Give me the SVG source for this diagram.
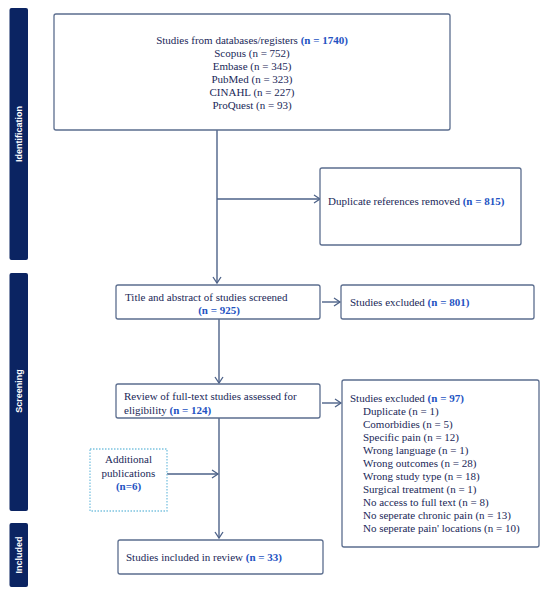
<svg xmlns="http://www.w3.org/2000/svg" width="550" height="594" viewBox="0 0 550 594">
<style>
.bar{fill:#0b2462}
.bt{font-family:"Liberation Sans",Arial,sans-serif;font-weight:bold;font-size:9px;fill:#ffffff}
.box{fill:#ffffff;stroke:#5b6d8e;stroke-width:1.3}
.dot{fill:#ffffff;stroke:#7cc3e0;stroke-width:1.3;stroke-dasharray:1.5 1.5}
.t{font-family:"Liberation Serif","Times New Roman",serif;font-size:11px;fill:#1a2858}
.b{font-weight:bold;fill:#2352c2}
.ln{fill:none;stroke:#4d6288;stroke-width:1.4}
</style>
<defs>
<marker id="ah" markerWidth="10" markerHeight="10" refX="7" refY="5" orient="auto" markerUnits="userSpaceOnUse">
<path d="M1,1 L7,5 L1,9" fill="none" stroke="#4d6288" stroke-width="1.3"/>
</marker>
</defs>
<rect width="550" height="594" fill="#ffffff"/>
<g id="bar-identification">
<rect class="bar" x="9.5" y="8" width="18.5" height="252" rx="2"/>
<text class="bt" transform="translate(22,134) rotate(-90)" text-anchor="middle">Identification</text>
</g>
<g id="bar-screening">
<rect class="bar" x="9.5" y="273" width="18.5" height="238" rx="2"/>
<text class="bt" transform="translate(22,391) rotate(-90)" text-anchor="middle">Screening</text>
</g>
<g id="bar-included">
<rect class="bar" x="9.5" y="523" width="18.5" height="64" rx="2"/>
<text class="bt" transform="translate(22,555) rotate(-90)" text-anchor="middle">Included</text>
</g>
<g id="connectors">
<path class="ln" d="M217,130 V283" marker-end="url(#ah)"/>
<path class="ln" d="M217,199 H320" marker-end="url(#ah)"/>
<path class="ln" d="M322,302 H340" marker-end="url(#ah)"/>
<path class="ln" d="M219,319 V383" marker-end="url(#ah)"/>
<path class="ln" d="M322,403 H341" marker-end="url(#ah)"/>
<path class="ln" d="M219,418 V538" marker-end="url(#ah)"/>
<path class="ln" d="M167,474 H218" marker-end="url(#ah)"/>
</g>
<g id="node-databases">
<rect class="box" x="54" y="14" width="396" height="116" rx="2"/>
<text class="t" x="252" text-anchor="middle"><tspan x="252" y="44">Studies from databases/registers <tspan class="b">(n = 1740)</tspan></tspan><tspan x="252" y="57">Scopus (n = 752)</tspan><tspan x="252" y="70">Embase (n = 345)</tspan><tspan x="252" y="83">PubMed (n = 323)</tspan><tspan x="252" y="96">CINAHL (n = 227)</tspan><tspan x="252" y="109">ProQuest (n = 93)</tspan></text>
</g>
<g id="node-duplicates">
<rect class="box" x="320" y="168" width="201" height="77" rx="2"/>
<text class="t" x="328" y="205">Duplicate references removed <tspan class="b">(n = 815)</tspan></text>
</g>
<g id="node-title">
<rect class="box" x="116" y="285" width="204" height="34" rx="2"/>
<text class="t" x="125" y="301">Title and abstract of studies screened</text>
<text class="t b" x="219" y="314" text-anchor="middle">(n = 925)</text>
</g>
<g id="node-excluded1">
<rect class="box" x="341" y="285" width="193" height="34" rx="2"/>
<text class="t" x="350" y="306">Studies excluded <tspan class="b">(n = 801)</tspan></text>
</g>
<g id="node-review">
<rect class="box" x="116" y="384" width="204" height="34" rx="2"/>
<text class="t" x="124" y="400">Review of full-text studies assessed for</text>
<text class="t" x="124" y="414">eligibility <tspan class="b">(n = 124)</tspan></text>
</g>
<g id="node-excluded2">
<rect class="box" x="342" y="380" width="197" height="167" rx="2"/>
<text class="t"><tspan x="350" y="402">Studies excluded <tspan class="b">(n = 97)</tspan></tspan><tspan x="363" y="415">Duplicate (n = 1)</tspan><tspan x="363" y="428">Comorbidies (n = 5)</tspan><tspan x="363" y="441">Specific pain (n = 12)</tspan><tspan x="363" y="454">Wrong language (n = 1)</tspan><tspan x="363" y="467">Wrong outcomes (n = 28)</tspan><tspan x="363" y="480">Wrong study type (n = 18)</tspan><tspan x="363" y="493">Surgical treatment (n = 1)</tspan><tspan x="363" y="506">No access to full text (n = 8)</tspan><tspan x="363" y="519">No seperate chronic pain (n = 13)</tspan><tspan x="363" y="532">No seperate pain' locations (n = 10)</tspan></text>
</g>
<g id="node-additional">
<rect class="dot" x="90" y="449" width="77" height="62"/>
<text class="t" text-anchor="middle"><tspan x="128.5" y="463">Additional</tspan><tspan x="128.5" y="477">publications</tspan><tspan class="b" x="128.5" y="490">(n=6)</tspan></text>
</g>
<g id="node-included">
<rect class="box" x="118" y="540" width="205" height="34" rx="2"/>
<text class="t" x="126" y="561">Studies included in review <tspan class="b">(n = 33)</tspan></text>
</g>
</svg>
